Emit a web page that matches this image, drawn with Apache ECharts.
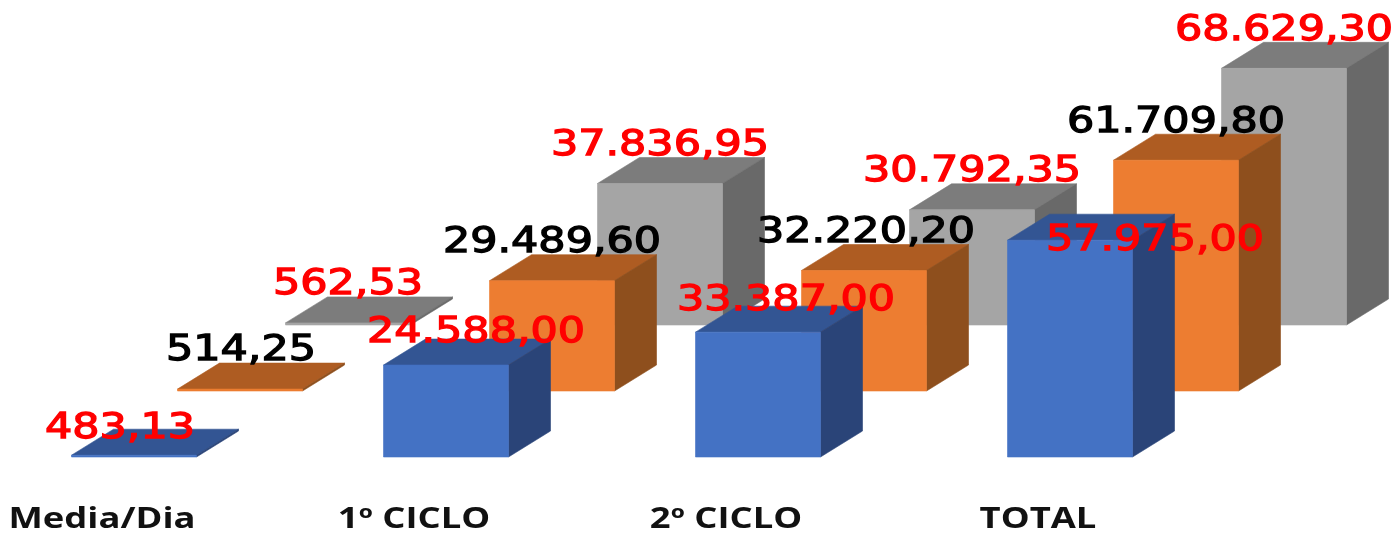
<!DOCTYPE html>
<html>
<head>
<meta charset="utf-8">
<title>Media/Dia</title>
<style>
  html, body { margin: 0; padding: 0; background: #fff; }
  #chart { width: 1397px; height: 534px; filter: blur(0.5px); }
</style>
<script src="https://cdn.jsdelivr.net/npm/echarts@6/dist/echarts.min.js"></script>
</head>
<body>
<div id="chart"></div>
<script>
var categories = ['Media/Dia', '1º CICLO', '2º CICLO', 'TOTAL'];
var blueValues = [483.13, 24588.00, 33387.00, 57975.00];
var orangeValues = [514.25, 29489.60, 32220.20, 61709.80];
var grayValues = [562.53, 37836.95, 30792.35, 68629.30];

var chart = echarts.init(document.getElementById('chart'));

// pseudo 3d: each row sits further back, the library has no 3d bar without gl
var barWidth = 125;
var depthX = 42;
var depthY = 26;
var frontGap = 32;   // face centre is right of the category label

var rows = [
  { values: blueValues, shiftX: 0, shiftY: 0, front: '#4472c4', top: '#335593', side: '#2a4478', text: '#ff0000',
    // these labels were moved by hand in the original
    labelMove: [[-14, 11], [30, 6], [28, 7], [85, 38]] },
  { values: orangeValues, shiftX: 106, shiftY: -66, front: '#ed7d31', top: '#ae5c22', side: '#8e4f1d', text: '#000000',
    labelMove: [[1, 0], [0, 0], [2, 0], [0, 0]] },
  { values: grayValues, shiftX: 214, shiftY: -132, front: '#a5a5a5', top: '#7c7c7c', side: '#696969', text: '#ff0000',
    labelMove: [[0, 0], [0, 0], [0, 0], [0, 0]] }
];

function money(v) {
  var parts = v.toFixed(2).split('.');
  return parts[0].replace(/\B(?=(\d{3})+$)/g, '.') + ',' + parts[1];
}

function poly(points, color) {
  return { type: 'polygon', shape: { points: points }, style: { fill: color, stroke: color, lineWidth: 0.6 } };
}

function makeBar(row) {
  return function (params, api) {
    var i = api.value(0);
    var base = api.coord([i, 0]);
    var tip = api.coord([i, api.value(1)]);
    var l = base[0] + frontGap - barWidth / 2 + row.shiftX;
    var r = l + barWidth;
    var b = base[1] + row.shiftY;
    var t = tip[1] + row.shiftY;
    var move = row.labelMove[i];
    return {
      type: 'group',
      children: [
        poly([[l, t], [r, t], [r + depthX, t - depthY], [l + depthX, t - depthY]], row.top),
        poly([[r, t], [r + depthX, t - depthY], [r + depthX, b - depthY], [r, b]], row.side),
        poly([[l, t], [r, t], [r, b], [l, b]], row.front),
        {
          type: 'text',
          x: (l + r) / 2 + move[0],
          y: t - 38 + move[1],
          scaleX: 1.19,
          style: {
            text: money(api.value(1)),
            fill: row.text,
            stroke: row.text,
            lineWidth: 1.3,
            font: '36px "DejaVu Sans"',
            textAlign: 'center',
            textVerticalAlign: 'middle'
          }
        }
      ]
    };
  };
}

function makeName(params, api) {
  var p = api.coord([api.value(0), 0]);
  return {
    type: 'text',
    x: p[0],
    y: p[1] + 63,
    scaleX: 1.3,
    style: {
      text: categories[api.value(0)],
      fill: '#111111',
      font: 'bold 28px "Open Sans"',
      textAlign: 'center',
      textVerticalAlign: 'middle'
    }
  };
}

// back row first so the front row paints over it
var series = rows.slice().reverse().map(function (row) {
  return {
    type: 'custom',
    renderItem: makeBar(row),
    encode: { x: 0, y: 1 },
    data: row.values.map(function (v, i) { return [i, v]; })
  };
});
series.push({
  type: 'custom',
  renderItem: makeName,
  encode: { x: 0, y: 1 },
  data: categories.map(function (c, i) { return [i, 0]; })
});

var option = {
  animation: false,
  backgroundColor: '#ffffff',
  grid: { left: 102, width: 936, top: 83, height: 374 },
  xAxis: { type: 'category', boundaryGap: false, show: false, data: categories },
  yAxis: { type: 'value', min: 0, max: 100000, show: false },
  series: series
};
chart.setOption(option);
</script>
</body>
</html>
